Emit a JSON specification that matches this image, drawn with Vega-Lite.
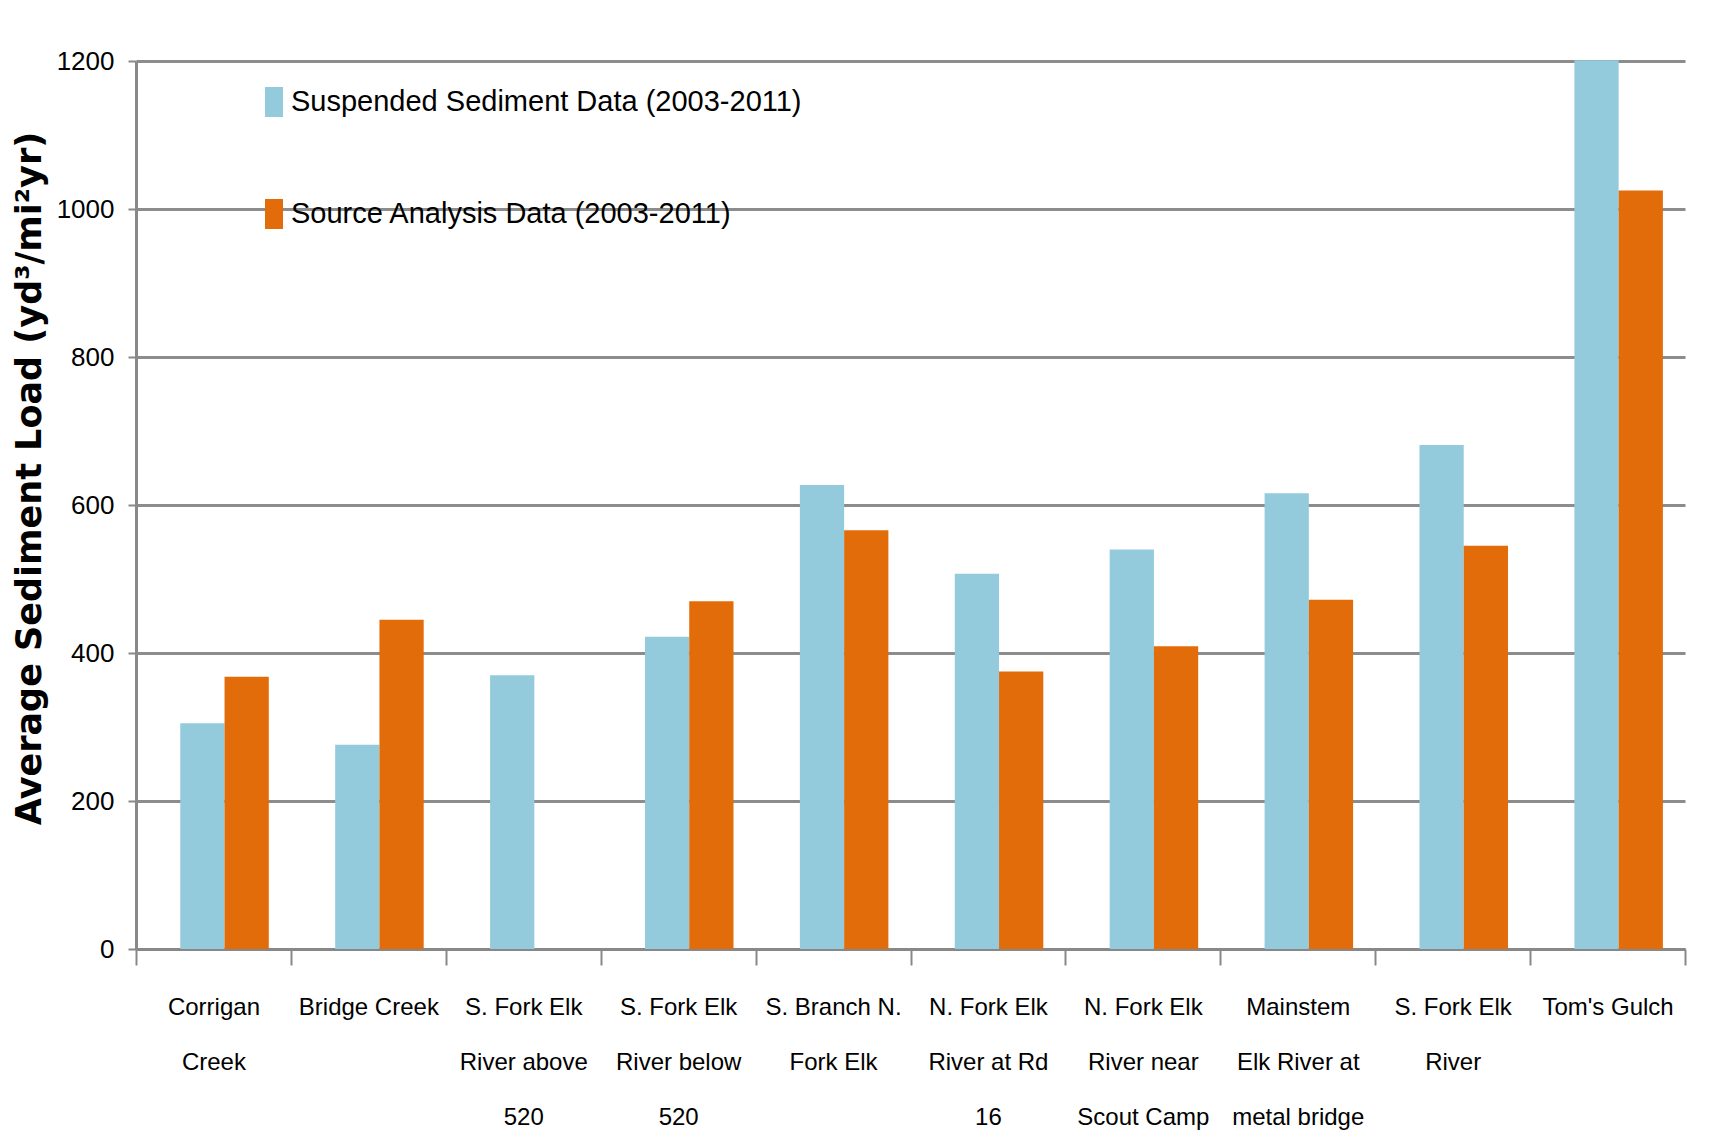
{
  "$schema": "https://vega.github.io/schema/vega-lite/v6.json",
  "width": 1549,
  "height": 888,
  "autosize": "none",
  "padding": {"left": 136, "top": 61, "right": 50, "bottom": 196},
  "background": "white",
  "data": {
    "values": [
      {"site": "Corrigan Creek", "series": "Suspended Sediment Data (2003-2011)", "load": 305},
      {"site": "Corrigan Creek", "series": "Source Analysis Data (2003-2011)", "load": 368},
      {"site": "Bridge Creek", "series": "Suspended Sediment Data (2003-2011)", "load": 276},
      {"site": "Bridge Creek", "series": "Source Analysis Data (2003-2011)", "load": 445},
      {"site": "S. Fork Elk River above 520", "series": "Suspended Sediment Data (2003-2011)", "load": 370},
      {"site": "S. Fork Elk River below 520", "series": "Suspended Sediment Data (2003-2011)", "load": 422},
      {"site": "S. Fork Elk River below 520", "series": "Source Analysis Data (2003-2011)", "load": 470},
      {"site": "S. Branch N. Fork Elk", "series": "Suspended Sediment Data (2003-2011)", "load": 627},
      {"site": "S. Branch N. Fork Elk", "series": "Source Analysis Data (2003-2011)", "load": 566},
      {"site": "N. Fork Elk River at Rd 16", "series": "Suspended Sediment Data (2003-2011)", "load": 507},
      {"site": "N. Fork Elk River at Rd 16", "series": "Source Analysis Data (2003-2011)", "load": 375},
      {"site": "N. Fork Elk River near Scout Camp", "series": "Suspended Sediment Data (2003-2011)", "load": 540},
      {"site": "N. Fork Elk River near Scout Camp", "series": "Source Analysis Data (2003-2011)", "load": 409},
      {"site": "Mainstem Elk River at metal bridge", "series": "Suspended Sediment Data (2003-2011)", "load": 616},
      {"site": "Mainstem Elk River at metal bridge", "series": "Source Analysis Data (2003-2011)", "load": 472},
      {"site": "S. Fork Elk River", "series": "Suspended Sediment Data (2003-2011)", "load": 681},
      {"site": "S. Fork Elk River", "series": "Source Analysis Data (2003-2011)", "load": 545},
      {"site": "Tom's Gulch", "series": "Suspended Sediment Data (2003-2011)", "load": 1201},
      {"site": "Tom's Gulch", "series": "Source Analysis Data (2003-2011)", "load": 1025}
    ]
  },
  "mark": {"type": "bar", "stroke": null, "clip": false},
  "encoding": {
    "x": {
      "field": "site",
      "type": "nominal",
      "sort": null,
      "scale": {"paddingInner": 0, "paddingOuter": 0},
      "axis": {
        "title": null,
        "labelAngle": 0,
        "labelFont": "Liberation Sans",
        "labelFontSize": 24,
        "labelColor": "black",
        "labelLineHeight": 55,
        "labelPadding": 30,
        "labelBaseline": "top",
        "tickBand": "extent",
        "tickSize": 16,
        "tickColor": "#888888",
        "tickWidth": 2,
        "domainColor": "#888888",
        "domainWidth": 3,
        "labelExpr": "({'Corrigan Creek': ['Corrigan','Creek'], 'Bridge Creek': 'Bridge Creek', 'S. Fork Elk River above 520': ['S. Fork Elk','River above','520'], 'S. Fork Elk River below 520': ['S. Fork Elk','River below','520'], 'S. Branch N. Fork Elk': ['S. Branch N.','Fork Elk'], 'N. Fork Elk River at Rd 16': ['N. Fork Elk','River at Rd','16'], 'N. Fork Elk River near Scout Camp': ['N. Fork Elk','River near','Scout Camp'], 'Mainstem Elk River at metal bridge': ['Mainstem','Elk River at','metal bridge'], 'S. Fork Elk River': ['S. Fork Elk','River'], \"Tom's Gulch\": \"Tom's Gulch\"})[datum.label]"
      }
    },
    "xOffset": {"field": "series", "type": "nominal", "sort": ["Suspended Sediment Data (2003-2011)", "Source Analysis Data (2003-2011)"], "scale": {"paddingInner": 0, "paddingOuter": 0.75, "align": 0.667}},
    "y": {
      "field": "load",
      "type": "quantitative",
      "scale": {"domain": [0, 1200], "nice": false},
      "axis": {
        "title": "Average Sediment Load (yd³/mi²yr)",
        "titleFont": "DejaVu Sans",
        "titleFontWeight": "bold",
        "titleFontSize": 35,
        "titleColor": "black",
        "titleAngle": 270,
        "titleX": -107,
        "titleY": 417,
        "titleAlign": "center",
        "titleBaseline": "middle",
        "values": [0, 200, 400, 600, 800, 1000, 1200],
        "format": "d",
        "labelFont": "Liberation Sans",
        "labelFontSize": 26,
        "labelColor": "black",
        "labelPadding": 14,
        "tickSize": 8,
        "tickColor": "#888888",
        "tickWidth": 2,
        "domainColor": "#888888",
        "domainWidth": 3,
        "grid": true,
        "gridColor": "#8c8c8c",
        "gridWidth": 3
      }
    },
    "color": {
      "field": "series",
      "type": "nominal",
      "sort": ["Suspended Sediment Data (2003-2011)", "Source Analysis Data (2003-2011)"],
      "scale": {"domain": ["Suspended Sediment Data (2003-2011)", "Source Analysis Data (2003-2011)"], "range": ["#93CBDC", "#E36C0A"]},
      "legend": {
        "title": null,
        "orient": "none",
        "legendX": 108,
        "legendY": 11,
        "symbolType": "M-0.3,-0.5H0.3V0.5H-0.3Z",
        "symbolSize": 3600,
        "symbolStrokeWidth": 0,
        "labelFont": "Liberation Sans",
        "labelFontSize": 29,
        "labelColor": "black",
        "labelLimit": 800,
        "rowPadding": 67,
        "labelOffset": -13
      }
    }
  },
  "config": {"view": {"stroke": null}}
}
